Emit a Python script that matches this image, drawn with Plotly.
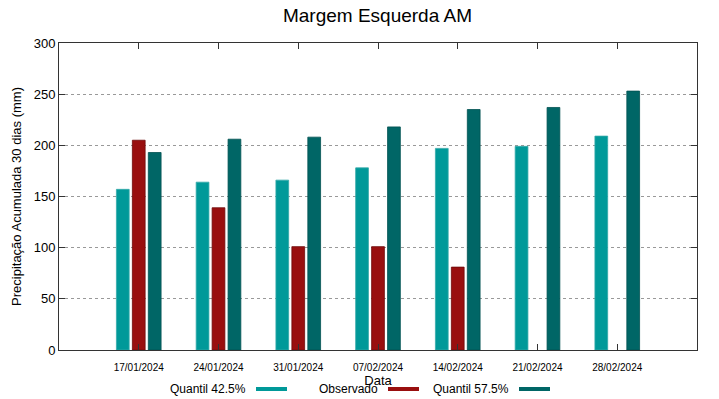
import plotly.graph_objects as go

categories = ["17/01/2024", "24/01/2024", "31/01/2024", "07/02/2024", "14/02/2024", "21/02/2024", "28/02/2024"]
q425 = [157, 164, 166, 178, 197, 199, 209]
observado = [205, 139, 101, 101, 81, None, None]
q575 = [193, 206, 208, 218, 235, 237, 253]
y_ticks = [0, 50, 100, 150, 200, 250, 300]

names = ["Quantil 42.5%", "Observado", "Quantil 57.5%"]
colors = ["#009999", "#990f0f", "#006666"]
edges = ["#33aaaa", "#6e0a0a", "#005050"]
series = [q425, observado, q575]

FONT = "Liberation Sans, Arial, sans-serif"
xs = list(range(len(categories)))

fig = go.Figure()
for name, vals, c, e in zip(names, series, colors, edges):
    fig.add_trace(go.Bar(x=xs, y=vals, name=name, marker=dict(color=c, line=dict(color=e, width=0.8)),
                         showlegend=False))

fig.update_layout(
    width=719, height=399,
    margin=dict(l=59, r=22, t=43, b=49),
    paper_bgcolor="white", plot_bgcolor="white",
    barmode="group", bargap=0.4, bargroupgap=0.2,
    font=dict(family=FONT, color="black"),
    title=dict(text="Margem Esquerda AM", x=0.525, xanchor="center", y=0.962, yanchor="middle",
               font=dict(size=19, family=FONT, color="black")),
)
fig.update_xaxes(
    range=[-1, len(categories)], tickmode="array", tickvals=xs, ticktext=categories,
    tickfont=dict(size=10), ticks="inside", ticklen=6, tickcolor="#333333", ticklabelstandoff=8,
    showline=True, linecolor="#333333", linewidth=1, mirror="ticks", showgrid=False, zeroline=False,
    title=dict(text="Data", font=dict(size=13), standoff=1),
)
fig.update_yaxes(
    range=[0, 300], tickmode="array", tickvals=y_ticks,
    tickfont=dict(size=13), ticks="inside", ticklen=6, tickcolor="#333333",
    showline=True, linecolor="#333333", linewidth=1, mirror="ticks",
    showgrid=True, gridcolor="#999999", griddash="dot", gridwidth=1, zeroline=False,
    title=dict(text="Precipitação Acumulada 30 dias (mm)", font=dict(size=13), standoff=9),
)

# gnuplot-style key: text followed by a colour sample
legend_text_right = [248, 380, 511]
for name, c, xr in zip(names, colors, legend_text_right):
    fig.add_annotation(text=name, xref="paper", yref="paper", x=(xr - 59) / 638, y=(399 - 389 - 49) / 307,
                       xanchor="right", yanchor="middle", showarrow=False, font=dict(size=12, family=FONT))
    x0 = (xr + 8 - 59) / 638
    x1 = (xr + 39 - 59) / 638
    fig.add_shape(type="rect", xref="paper", yref="paper", x0=x0, x1=x1,
                  y0=(399 - 391 - 49) / 307, y1=(399 - 387 - 49) / 307,
                  fillcolor=c, line=dict(width=0))

fig.write_html("out.html", config={"displayModeBar": False},
               post_script="document.body.style.margin='0px';document.body.style.padding='0px';")
